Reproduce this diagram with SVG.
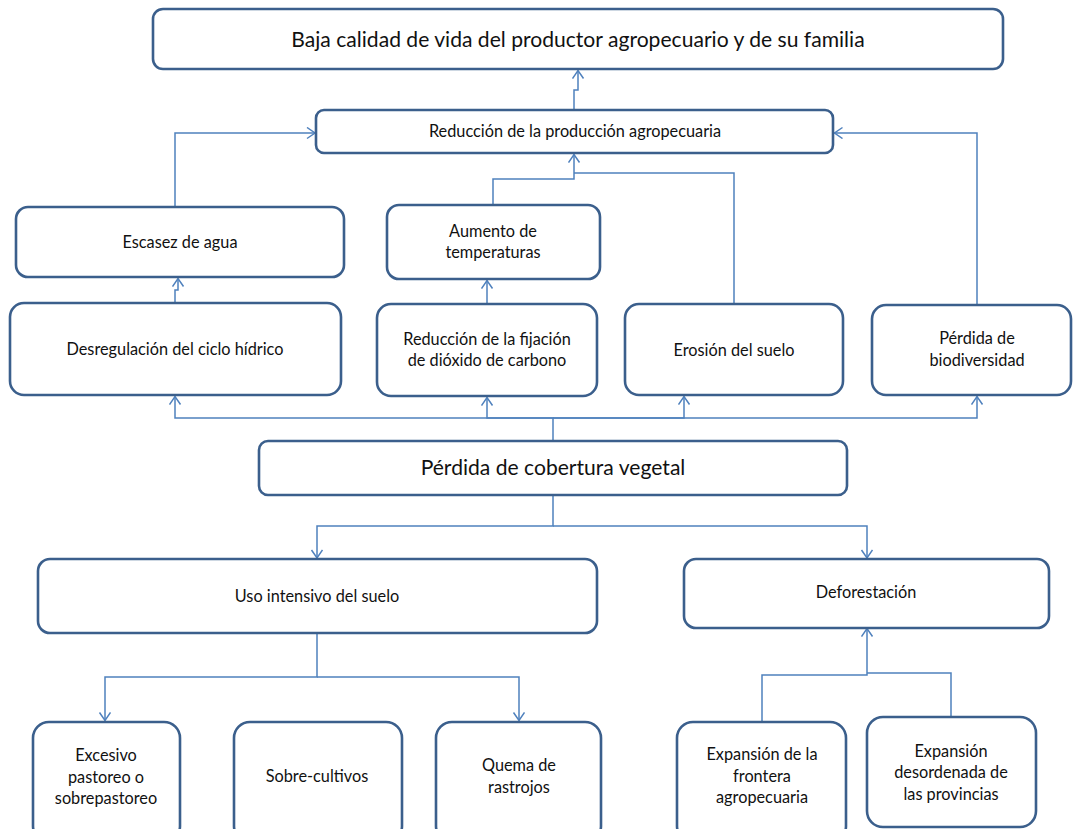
<svg xmlns="http://www.w3.org/2000/svg" width="1073" height="829" viewBox="0 0 1073 829">
  <style>
    .box { fill: #ffffff; stroke: #3B5F8C; stroke-width: 2.6; }
    .lbl { font-family: Lato, "Liberation Sans", sans-serif; font-size: 16.3px; fill: #111111; text-anchor: middle; }
    .big { font-size: 21.1px; }
    .link { fill: none; stroke: #4F81BD; stroke-width: 1.5; }
    .arr { marker-end: url(#open); }
  </style>
  <defs>
    <marker id="open" markerUnits="userSpaceOnUse" markerWidth="14" markerHeight="14" refX="9" refY="6" orient="auto">
      <path d="M1,0.5 L9,6 L1,11.5" fill="none" stroke="#4F81BD" stroke-width="1.5"/>
    </marker>
  </defs>
  <rect width="1073" height="829" fill="#ffffff"/>

  <!-- connectors -->
  <g id="connectors">
    <path class="link arr" d="M574,110 V90 H578 V70.5"/>
    <path class="link arr" d="M175,208 V133 H315"/>
    <path class="link arr" d="M175,303 V290 H178 V278.5"/>
    <path class="link arr" d="M493,205 V179 H574 V154.5"/>
    <path class="link" d="M734,304 V173 H574"/>
    <path class="link arr" d="M487,304 V280.5"/>
    <path class="link arr" d="M977,305 V133 H834.5"/>
    <path class="link arr" d="M553,440 V418 H175 V396.5"/>
    <path class="link arr" d="M553,418 H487 V397.5"/>
    <path class="link arr" d="M553,418 H684 V396.5"/>
    <path class="link arr" d="M553,418 H977 V396.5"/>
    <path class="link arr" d="M553,495 V526 H317 V558"/>
    <path class="link arr" d="M553,526 H867 V558"/>
    <path class="link arr" d="M317,633 V677 H105 V720.5"/>
    <path class="link arr" d="M317,677 H519 V720.5"/>
    <path class="link arr" d="M762,722 V675 H867 V628.5"/>
    <path class="link" d="M951,717 V673 H867"/>
  </g>

  <g id="n-calidad">
    <rect class="box" x="153" y="9" width="850" height="60" rx="10"/>
    <text class="lbl big" x="578" y="47">Baja calidad de vida del productor agropecuario y de su familia</text>
  </g>
  <g id="n-produccion">
    <rect class="box" x="316" y="110" width="517" height="43" rx="8"/>
    <text class="lbl" x="575" y="137">Reducción de la producción agropecuaria</text>
  </g>
  <g id="n-escasez">
    <rect class="box" x="16" y="207" width="328" height="70" rx="12"/>
    <text class="lbl" x="180" y="248">Escasez de agua</text>
  </g>
  <g id="n-temperaturas">
    <rect class="box" x="387" y="205" width="213" height="74" rx="12"/>
    <text class="lbl" x="493" y="237">Aumento de</text>
    <text class="lbl" x="493" y="258">temperaturas</text>
  </g>
  <g id="n-ciclo">
    <rect class="box" x="10" y="303" width="331" height="92" rx="14"/>
    <text class="lbl" x="175" y="355">Desregulación del ciclo hídrico</text>
  </g>
  <g id="n-fijacion">
    <rect class="box" x="377" y="304" width="220" height="92" rx="14"/>
    <text class="lbl" x="487" y="345">Reducción de la fijación</text>
    <text class="lbl" x="487" y="366">de dióxido de carbono</text>
  </g>
  <g id="n-erosion">
    <rect class="box" x="625" y="304" width="218" height="91" rx="14"/>
    <text class="lbl" x="734" y="356">Erosión del suelo</text>
  </g>
  <g id="n-biodiversidad">
    <rect class="box" x="872" y="305" width="199" height="90" rx="14"/>
    <text class="lbl" x="977" y="344">Pérdida de</text>
    <text class="lbl" x="977" y="366">biodiversidad</text>
  </g>
  <g id="n-cobertura">
    <rect class="box" x="259" y="441" width="588" height="54" rx="9"/>
    <text class="lbl big" x="553" y="475">Pérdida de cobertura vegetal</text>
  </g>
  <g id="n-uso">
    <rect class="box" x="38" y="559" width="559" height="74" rx="12"/>
    <text class="lbl" x="317" y="602">Uso intensivo del suelo</text>
  </g>
  <g id="n-deforestacion">
    <rect class="box" x="684" y="559" width="365" height="69" rx="12"/>
    <text class="lbl" x="866" y="598">Deforestación</text>
  </g>
  <g id="n-pastoreo">
    <rect class="box" x="33" y="722" width="147" height="120" rx="16"/>
    <text class="lbl" x="106" y="761">Excesivo</text>
    <text class="lbl" x="106" y="783">pastoreo o</text>
    <text class="lbl" x="106" y="804">sobrepastoreo</text>
  </g>
  <g id="n-cultivos">
    <rect class="box" x="234" y="722" width="168" height="120" rx="16"/>
    <text class="lbl" x="317" y="782">Sobre-cultivos</text>
  </g>
  <g id="n-rastrojos">
    <rect class="box" x="436" y="722" width="165" height="120" rx="16"/>
    <text class="lbl" x="519" y="771">Quema de</text>
    <text class="lbl" x="519" y="793">rastrojos</text>
  </g>
  <g id="n-frontera">
    <rect class="box" x="677" y="722" width="169" height="120" rx="16"/>
    <text class="lbl" x="762" y="760">Expansión de la</text>
    <text class="lbl" x="762" y="782">frontera</text>
    <text class="lbl" x="762" y="803">agropecuaria</text>
  </g>
  <g id="n-provincias">
    <rect class="box" x="867" y="717" width="169" height="110" rx="16"/>
    <text class="lbl" x="951" y="757">Expansión</text>
    <text class="lbl" x="951" y="778">desordenada de</text>
    <text class="lbl" x="951" y="800">las provincias</text>
  </g>
</svg>
